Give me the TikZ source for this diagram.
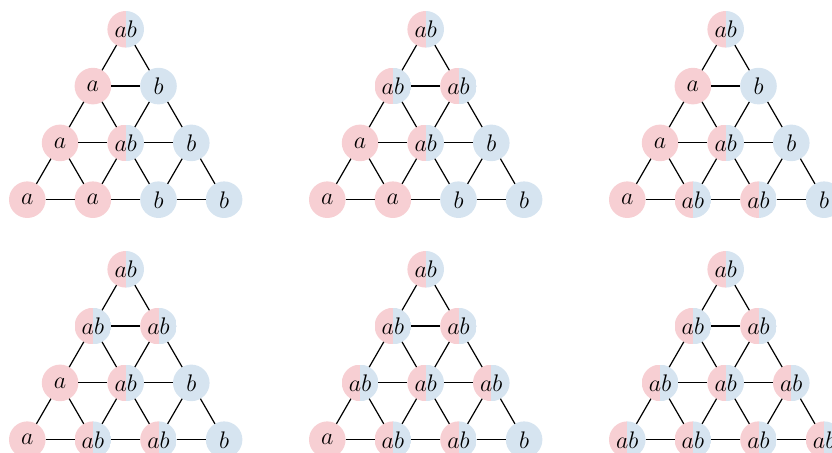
\documentclass[tikz,border=0pt]{standalone}
\usepackage{xcolor}
\usepackage{tikz}
\definecolor{figPink}{HTML}{F7CFD3}
\definecolor{figBlue}{HTML}{D6E4F0}

\begin{document}
\begin{tikzpicture}[
  x=0.5pt, y=-0.5pt,
  every node/.style={font=\fontsize{11.5}{12}\selectfont},
  dot/.style={circle, inner sep=0pt, outer sep=0pt, minimum size=18.3pt},
  sa/.style={dot, fill=figPink},
  sb/.style={dot, fill=figBlue},
  sab/.style={dot, path picture={
      \fill[figPink] (path picture bounding box.south west) rectangle (path picture bounding box.north);
      \fill[figBlue] (path picture bounding box.south) rectangle (path picture bounding box.north east);}},
  link/.style={line width=0.6pt, black},
]
\useasboundingbox (0,0) rectangle (832,453);

% Six panels: name / top x / top y / labels row by row
\foreach \p/\cx/\cy/\lst in {
    A/125.7/29.3/{ab,a,b,a,ab,b,a,a,b,b},
    B/425.7/29.3/{ab,ab,ab,a,ab,b,a,a,b,b},
    C/725.7/29.3/{ab,a,b,a,ab,b,a,ab,ab,b},
    D/125.7/269.3/{ab,ab,ab,a,ab,b,a,ab,ab,b},
    E/425.7/269.3/{ab,ab,ab,ab,ab,ab,a,ab,ab,b},
    F/725.7/269.3/{ab,ab,ab,ab,ab,ab,ab,ab,ab,ab}} {
  % Nodes
  \foreach \s [count=\n from 0] in \lst {
    \pgfmathtruncatemacro\r{\n<1 ? 0 : (\n<3 ? 1 : (\n<6 ? 2 : 3))}
    \pgfmathtruncatemacro\i{\n-\r*(\r+1)/2}
    \node[s\s] (\p-\r-\i) at ({\cx+(\i-\r/2)*65.6}, {\cy+\r*56.8}) {$\s$};
  }
  % Edges down the sides
  \foreach \r in {0,1,2} {
    \foreach \i in {0,...,\r} {
      \pgfmathtruncatemacro\rr{\r+1}
      \pgfmathtruncatemacro\ii{\i+1}
      \draw[link] (\p-\r-\i) -- (\p-\rr-\i);
      \draw[link] (\p-\r-\i) -- (\p-\rr-\ii);
    }
  }
  % Edges along the rows
  \foreach \r in {1,2,3} {
    \foreach \i in {1,...,\r} {
      \pgfmathtruncatemacro\h{\i-1}
      \draw[link] (\p-\r-\h) -- (\p-\r-\i);
    }
  }
}

\end{tikzpicture}
\end{document}
